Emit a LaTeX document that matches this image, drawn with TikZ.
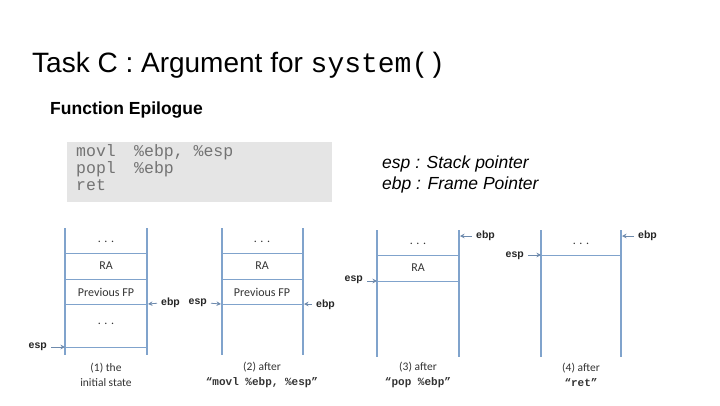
\documentclass[tikz,border=0pt]{standalone}
\usepackage{fontspec}
\setmainfont{Liberation Sans}
\newfontfamily\codefont{Liberation Mono}
\newfontfamily\calfont{Carlito}
\usetikzlibrary{arrows.meta}
\definecolor{stackline}{RGB}{128,163,204}
\definecolor{codegray}{RGB}{229,229,229}
\tikzset{
  wall/.style={stackline, line width=1.5pt},
  slot/.style={stackline, line width=0.7pt},
  cell/.style={font=\calfont\fontsize{12}{14}\selectfont, text=black!80},
  reg/.style={font=\bfseries\fontsize{10.5}{12}\selectfont, text=black!85, inner sep=1pt},
  regarrow/.style={-{Stealth[length=4.5pt,width=4.5pt]}, stackline!85!black, line width=0.8pt, shorten <=3pt},
  caption/.style={font=\calfont\fontsize{11.5}{15}\selectfont, align=center, text=black!80},
  asm/.style={font=\codefont\fontsize{16.5}{20}\selectfont, text=black!55, anchor=base west, inner sep=0pt},
}
\begin{document}
\begin{tikzpicture}[x=1pt,y=-1pt]
\useasboundingbox (0,0) rectangle (720,405);

% title and heading
\node[anchor=base west, inner sep=0pt, font=\fontsize{28}{30}\selectfont] (title) at (32,72) {Task C : Argument for {\codefont system()}};
\node[anchor=base west, inner sep=0pt, font=\bfseries\fontsize{17.5}{18}\selectfont] (epi) at (50,114) {Function Epilogue};

% code box
\node[fill=codegray, minimum width=265pt, minimum height=60pt, anchor=north west, inner sep=0pt] (codebox) at (67,142) {};
\node[asm] (op1) at (76,156) {movl};
\node[asm] (arg1) at (134,156) {\%ebp, \%esp};
\node[asm] (op2) at (76,173) {popl};
\node[asm] (arg2) at (134,173) {\%ebp};
\node[asm] (op3) at (76,190) {ret};

% legend
\node[anchor=base west, inner sep=0pt, font=\itshape\fontsize{17.5}{18}\selectfont] (lgesp) at (382,168) {esp : Stack pointer};
\node[anchor=base west, inner sep=0pt, font=\itshape\fontsize{17.5}{18}\selectfont] (lgebp) at (382,189) {ebp : Frame Pointer};

% (1) initial state
\draw[wall] (65,228) -- (65,355);
\draw[wall] (147,228) -- (147,355);
\draw[slot] (65,253) -- (147,253);
\draw[slot] (65,279) -- (147,279);
\draw[slot] (65,304) -- (147,304);
\draw[slot] (65,347) -- (147,347);
\node[cell] (dots1) at (106,242) {. . .};
\node[cell] (ra1) at (106,266) {RA};
\node[cell] (fp1) at (106,292) {Previous FP};
\node[cell] (low1) at (106,324) {. . .};
\coordinate (espat1) at (65,347);
\coordinate (ebpat1) at (148,304);
\node[reg, anchor=east] (esp1) at (48,347) {esp};
\node[reg, anchor=west] (ebp1) at (160,303) {ebp};
\draw[regarrow] (esp1.east) -- (espat1);
\draw[regarrow] (ebp1.west) -- (ebpat1);
\node[caption] (cap1) at (106,375) {(1) the\\initial state};

% (2) after movl
\draw[wall] (222,228) -- (222,355);
\draw[wall] (303,228) -- (303,355);
\draw[slot] (222,253) -- (303,253);
\draw[slot] (222,279) -- (303,279);
\draw[slot] (222,304) -- (303,304);
\node[cell] (dots2) at (262,242) {. . .};
\node[cell] (ra2) at (262,266) {RA};
\node[cell] (fp2) at (262,292) {Previous FP};
\coordinate (espat2) at (221,304);
\coordinate (ebpat2) at (304,304);
\node[reg, anchor=east] (esp2) at (208,303) {esp};
\node[reg, anchor=west] (ebp2) at (315,305) {ebp};
\draw[regarrow] (esp2.east) -- (espat2);
\draw[regarrow] (ebp2.west |- ebpat2) -- (ebpat2);
\node[caption] (cap2) at (262,375) {(2) after\\{\codefont\bfseries\fontsize{11}{15}\selectfont “movl \%ebp, \%esp”}};

% (3) after pop
\draw[wall] (377,230) -- (377,357);
\draw[wall] (459,230) -- (459,357);
\draw[slot] (377,255) -- (459,255);
\draw[slot] (377,281) -- (459,281);
\node[cell] (dots3) at (418,244) {. . .};
\node[cell] (ra3) at (418,268) {RA};
\coordinate (espat3) at (377,281);
\coordinate (ebpat3) at (460,236);
\node[reg, anchor=east] (esp3) at (364,280) {esp};
\node[reg, anchor=west] (ebp3) at (475,236) {ebp};
\draw[regarrow] (esp3.east |- espat3) -- (espat3);
\draw[regarrow] (ebp3.west) -- (ebpat3);
\node[caption] (cap3) at (418,375) {(3) after\\{\codefont\bfseries\fontsize{11}{15}\selectfont “pop \%ebp”}};

% (4) after ret
\draw[wall] (541,230) -- (541,357);
\draw[wall] (621,230) -- (621,357);
\draw[slot] (541,255) -- (621,255);
\node[cell] (dots4) at (581,244) {. . .};
\coordinate (espat4) at (541,255);
\coordinate (ebpat4) at (622,236);
\node[reg, anchor=east] (esp4) at (525,256) {esp};
\node[reg, anchor=west] (ebp4) at (637,236) {ebp};
\draw[regarrow] (esp4.east |- espat4) -- (espat4);
\draw[regarrow] (ebp4.west) -- (ebpat4);
\node[caption] (cap4) at (581,375) {(4) after\\{\codefont\bfseries\fontsize{11}{15}\selectfont “ret”}};
\end{tikzpicture}
\end{document}
